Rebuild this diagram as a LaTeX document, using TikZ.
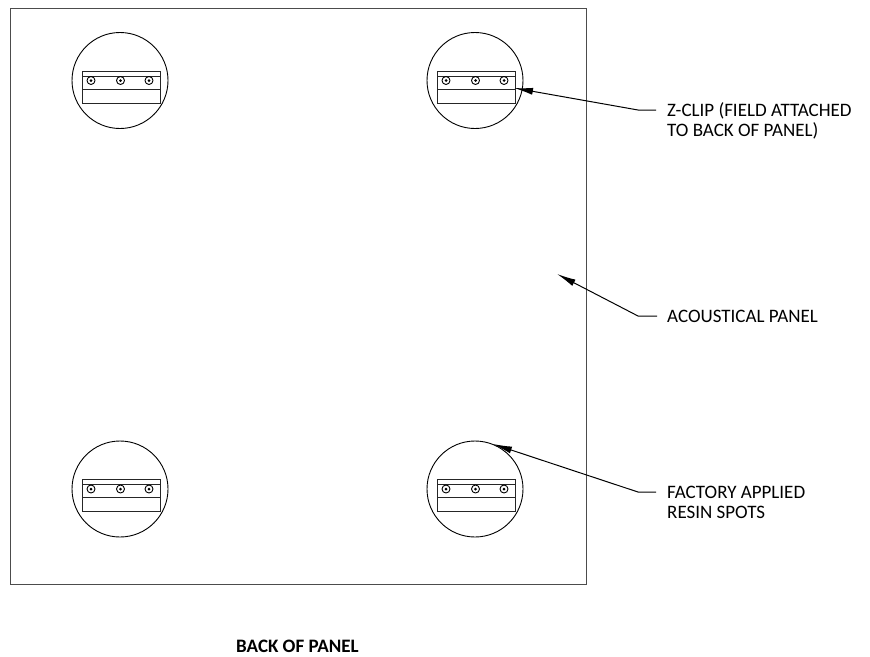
\documentclass[tikz,border=0pt]{standalone}
\usepackage{fontspec}
\setmainfont{Carlito}
\usetikzlibrary{arrows.meta,positioning}

\begin{document}
\begin{tikzpicture}[x=1pt,y=-1pt,>={Latex[length=19pt,width=7pt]},
    spot/.style={draw,circle,inner sep=0pt,minimum size=96pt,line width=0.9pt},
    clipline/.style={line width=0.9pt,draw=black!85},
    screw/.style={draw,circle,inner sep=0pt,minimum size=8pt,line width=0.9pt},
    note/.style={inner sep=0pt,align=left,anchor=west,font=\fontsize{19}{20.5}\selectfont},
    leader/.style={line width=1pt}]
    \useasboundingbox (0,0) rectangle (870,656);
    \node[draw=black!70,line width=1pt,inner sep=0pt,minimum size=576pt] (panel) at (298,296) {};

    \foreach \name/\cx/\cy in {tl/120/80.5,tr/475/80.5,bl/120/489,br/475/489} {
      \node[spot] (\name) at (\cx,\cy) {};
      \begin{scope}[shift={(\cx,\cy)}]
        \draw[clipline] (-38,-9.5) rectangle (40,22.5);
        \draw[clipline] (-38,-4.5) -- (40,-4.5);
        \draw[clipline] (-38,8.5) -- (40,8.5);
        \foreach \sx in {-29,0.5,29} {
          \node[screw] at (\sx,0) {};
          \fill (\sx,0) circle (1.5pt);
        }
      \end{scope}
    }

    \node[note] (zclip) at (667,121) {Z-CLIP (FIELD ATTACHED\\TO BACK OF PANEL)};
    \node[note] (acoustic) at (667,316) {ACOUSTICAL PANEL};
    \node[note] (resin) at (667,502.5) {FACTORY APPLIED\\RESIN SPOTS};
    \node[font=\fontsize{19}{20}\bfseries\selectfont,inner sep=0pt] (title) at (297.5,646) {BACK OF PANEL};

    \coordinate (ztip) at (514,88);
    \coordinate (zbend) at (638,110);
    \coordinate (zend) at (656,110);
    \coordinate (atip) at (557,274);
    \coordinate (abend) at (638,316);
    \coordinate (aend) at (657,316);
    \coordinate (rtip) at (493,444);
    \coordinate (rbend) at (638,492);
    \coordinate (rend) at (656,492);

    \draw[leader,->] (zend) -- (zbend) -- (ztip);
    \draw[leader,->] (aend) -- (abend) -- (atip);
    \draw[leader,->] (rend) -- (rbend) -- (rtip);
\end{tikzpicture}
\end{document}
